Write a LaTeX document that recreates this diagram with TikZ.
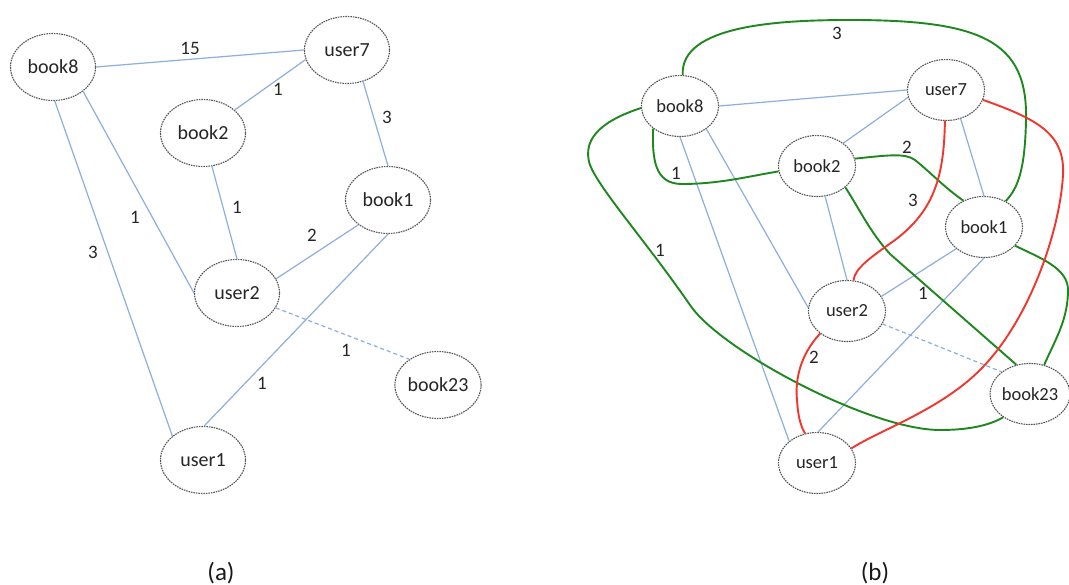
\documentclass[tikz,border=0pt]{standalone}
\usepackage{fontspec}
\setmainfont{Carlito}
\usetikzlibrary{shapes.geometric}
\definecolor{edgeblue}{RGB}{140,175,220}
\definecolor{edgegreen}{RGB}{30,135,30}
\definecolor{edgered}{RGB}{240,55,45}
\definecolor{bordergray}{RGB}{85,85,85}
\tikzset{
  vtxA/.style={ellipse, draw=bordergray, dash pattern=on 1.6pt off 0.9pt, line width=1.1pt, minimum width=85pt, minimum height=67pt, inner sep=0pt, font=\fontsize{20}{24}\selectfont, text=black!85},
  vtxB/.style={ellipse, draw=bordergray, dash pattern=on 1.6pt off 0.9pt, line width=1.1pt, minimum width=77pt, minimum height=61pt, inner sep=0pt, font=\fontsize{18.5}{22}\selectfont, text=black!85},
  blueedge/.style={draw=edgeblue, line width=1.2pt},
  blueedgedash/.style={draw=edgeblue, line width=1.2pt, dash pattern=on 4pt off 3pt},
  greenedge/.style={draw=edgegreen, line width=1.9pt},
  rededge/.style={draw=edgered, line width=1.9pt},
  wlabel/.style={font=\fontsize{19}{22}\selectfont, text=black!85, inner sep=0pt},
  caption/.style={font=\fontsize{25}{29}\selectfont, text=black!90, inner sep=0pt}
}
\begin{document}
\begin{tikzpicture}[x=1pt, y=-1pt]
\useasboundingbox (0,0) rectangle (1069,585);
\fill[white] (0,0) rectangle (1069,585);

% ---------- (a) ----------
\node[vtxA] (a8) at (53,67) {book8};
\node[vtxA] (a7) at (347,50) {user7};
\node[vtxA] (a2) at (203,133) {book2};
\node[vtxA] (a1) at (388,200) {book1};
\node[vtxA] (au2) at (237,293) {user2};
\node[vtxA] (a23) at (438,385) {book23};
\node[vtxA] (au1) at (203,460) {user1};

\draw[blueedge] (a8.east) -- (a7.west);
\draw[blueedge] (a7.193) -- (a2.36);
\draw[blueedge] (a7.-63) -- (a1.north);
\draw[blueedge] (a8.-39) -- (au2.west);
\draw[blueedge] (a8.-87) -- (au1.142);
\draw[blueedge] (a2.-75) -- (au2.north);
\draw[blueedge] (a1.220) -- (au2.20);
\draw[blueedge] (a1.south) -- (au1.88);
\draw[blueedgedash] (au2.-21) -- (a23.138);

\node[wlabel] (la1) at (190,48) {15};
\node[wlabel] (la2) at (278,89) {1};
\node[wlabel] (la3) at (387,117) {3};
\node[wlabel] (la4) at (135,217) {1};
\node[wlabel] (la5) at (93,252) {3};
\node[wlabel] (la6) at (237,207) {1};
\node[wlabel] (la7) at (312,235) {2};
\node[wlabel] (la8) at (262,383) {1};
\node[wlabel] (la9) at (346,350) {1};

\node[caption] (capa) at (221,573) {(a)};

% ---------- (b) ----------
\node[vtxB] (b8) at (680,106) {book8};
\node[vtxB] (b7) at (946,90) {user7};
\node[vtxB] (b2) at (817,166) {book2};
\node[vtxB] (b1) at (984,227) {book1};
\node[vtxB] (bu2) at (847,311) {user2};
\node[vtxB] (b23) at (1030,394) {book23};
\node[vtxB] (bu1) at (817,463) {user1};

\draw[blueedge] (b8.east) -- (b7.west);
\draw[blueedge] (b7.191) -- (b2.41);
\draw[blueedge] (b7.-63) -- (b1.north);
\draw[blueedge] (b8.-90) -- (bu1.142);
\draw[blueedge] (b8.-41) -- (bu2.175);
\draw[blueedge] (b2.-75) -- (bu2.north);
\draw[blueedge] (b1.218) -- (bu2.23);
\draw[blueedge] (b1.-90) -- (bu1.88);
\draw[blueedgedash] (bu2.-20) -- (b23.142);

% green
\draw[greenedge] (b8.85) .. controls (680,25) and (780,20) .. (850,20)
  .. controls (980,20) and (1028,40) .. (1026,120)
  .. controls (1025,170) and (1018,188) .. (b1.50);
\draw[greenedge] (b8.220) .. controls (652,160) and (655,184) .. (682,184)
  .. controls (720,184) and (750,176) .. (b2.188);
\draw[greenedge] (b2.11) .. controls (890,155) and (905,153) .. (915,160)
  .. controls (930,172) and (945,188) .. (b1.128);
\draw[greenedge] (b8.183) .. controls (610,118) and (580,135) .. (590,165)
  .. controls (600,190) and (645,240) .. (690,305)
  .. controls (720,350) and (870,430) .. (940,430)
  .. controls (970,430) and (990,425) .. (b23.221);
\draw[greenedge] (b2.-37) .. controls (860,210) and (870,232) .. (890,254)
  -- (b23.115);
\draw[greenedge] (b1.-31) .. controls (1040,258) and (1068,268) .. (1068,290)
  .. controls (1068,320) and (1055,340) .. (b23.64);

% red
\draw[rededge] (b7.268) .. controls (944,175) and (935,210) .. (895,240)
  .. controls (870,258) and (855,268) .. (bu2.78);
\draw[rededge] (b7.-15) .. controls (1040,120) and (1065,135) .. (1063,175)
  .. controls (1060,230) and (1030,320) .. (980,370)
  .. controls (940,410) and (880,430) .. (bu1.23);
\draw[rededge] (bu2.220) .. controls (800,355) and (795,380) .. (797,400)
  .. controls (798,415) and (800,425) .. (bu1.112);

\node[wlabel] (lb1) at (837,33) {3};
\node[wlabel] (lb2) at (676,173) {1};
\node[wlabel] (lb3) at (907,147) {2};
\node[wlabel] (lb4) at (913,200) {3};
\node[wlabel] (lb5) at (660,250) {1};
\node[wlabel] (lb6) at (923,293) {1};
\node[wlabel] (lb7) at (814,357) {2};

\node[caption] (capb) at (875,573) {(b)};
\end{tikzpicture}
\end{document}
